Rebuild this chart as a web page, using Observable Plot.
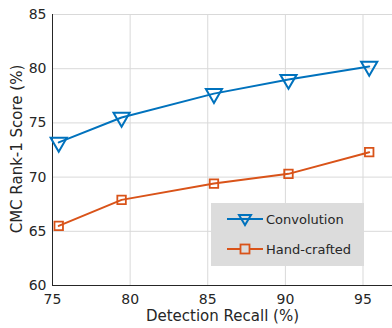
<!DOCTYPE html>
<html>
<head>
<meta charset="utf-8">
<script src="https://cdn.jsdelivr.net/npm/d3@7"></script>
<script src="https://cdn.jsdelivr.net/npm/@observablehq/plot@0.6"></script>
<style>
  body { margin: 0; background: #fff; }
  #wrap { position: relative; width: 392px; height: 328px; font-family: "DejaVu Sans", sans-serif; }
  #legend { position: absolute; left: 211px; top: 203px; width: 153px; height: 63px; background: #dcdcdc; font-size: 13px; color: #262626; }
  .row { position: absolute; left: 0; height: 20px; display: flex; align-items: center; }
  .row svg { margin-left: 16px; margin-right: 3px; }
</style>
</head>
<body>
<div id="wrap"></div>
<script>
const recall = [75.4, 79.45, 85.4, 90.2, 95.4];
const convolution = [73.2, 75.5, 77.7, 79.0, 80.2];
const handcrafted = [65.5, 67.9, 69.4, 70.3, 72.3];
const xTicks = [75, 80, 85, 90, 95];
const yTicks = [60, 65, 70, 75, 80, 85];
const seriesNames = ["Convolution", "Hand-crafted"];
const colors = ["#0072BD", "#D95319"];

const conv = recall.map((r, i) => ({x: r, y: convolution[i]}));
const hand = recall.map((r, i) => ({x: r, y: handcrafted[i]}));

const chart = Plot.plot({
  width: 392,
  height: 328,
  marginLeft: 52,
  marginTop: 14,
  marginBottom: 43,
  marginRight: 0,
  style: {fontFamily: "DejaVu Sans, sans-serif", fontSize: "14px", color: "#262626", background: "#fff"},
  x: {domain: [75, 96.9], ticks: xTicks, tickSize: 0, tickPadding: 9, label: null},
  y: {domain: [60, 85], ticks: yTicks, tickSize: 0, tickPadding: 6, label: null},
  marks: [
    Plot.gridX(xTicks, {stroke: "#d9d9d9", strokeOpacity: 1}),
    Plot.gridY(yTicks, {stroke: "#d9d9d9", strokeOpacity: 1}),
    Plot.axisX({ticks: xTicks, tickSize: 0, tickPadding: 9, fontSize: 14}),
    Plot.axisY({ticks: yTicks, tickSize: 0, tickPadding: 6, fontSize: 14}),
    Plot.ruleX([75], {stroke: "#262626", strokeWidth: 1}),
    Plot.ruleY([60], {stroke: "#262626", strokeWidth: 1}),
    Plot.line(conv, {x: "x", y: "y", stroke: colors[0], strokeWidth: 2}),
    Plot.dot(conv, {x: "x", y: "y", symbol: "triangle", rotate: 180, r: 6, stroke: colors[0], strokeWidth: 2, fill: "none"}),
    Plot.line(hand, {x: "x", y: "y", stroke: colors[1], strokeWidth: 2}),
    Plot.dot(hand, {x: "x", y: "y", symbol: "square", r: 4.8, stroke: colors[1], strokeWidth: 1.8, fill: "none"}),
    Plot.text(["Detection Recall (%)"], {frameAnchor: "bottom", dy: 35, fontSize: 15, fill: "#262626"}),
    Plot.text(["CMC Rank-1 Score (%)"], {frameAnchor: "left", textAnchor: "middle", dx: -35, dy: -1, rotate: -90, fontSize: 15, fill: "#262626"})
  ]
});

const wrap = document.getElementById("wrap");
wrap.appendChild(chart);

const legend = document.createElement("div");
legend.id = "legend";
const symbols = [
  `<svg width="36" height="16"><line x1="0" y1="8" x2="36" y2="8" stroke="${colors[0]}" stroke-width="2"/><path d="M12,4 L24,4 L18,14 Z" fill="none" stroke="${colors[0]}" stroke-width="2"/></svg>`,
  `<svg width="36" height="16"><line x1="0" y1="8" x2="36" y2="8" stroke="${colors[1]}" stroke-width="2"/><rect x="13.5" y="3.5" width="9" height="9" fill="#dcdcdc" stroke="${colors[1]}" stroke-width="1.8"/></svg>`
];
seriesNames.forEach((name, i) => {
  const row = document.createElement("div");
  row.className = "row";
  row.style.top = (6 + i * 30) + "px";
  row.innerHTML = symbols[i] + `<span>${name}</span>`;
  legend.appendChild(row);
});
wrap.appendChild(legend);
</script>
</body>
</html>
